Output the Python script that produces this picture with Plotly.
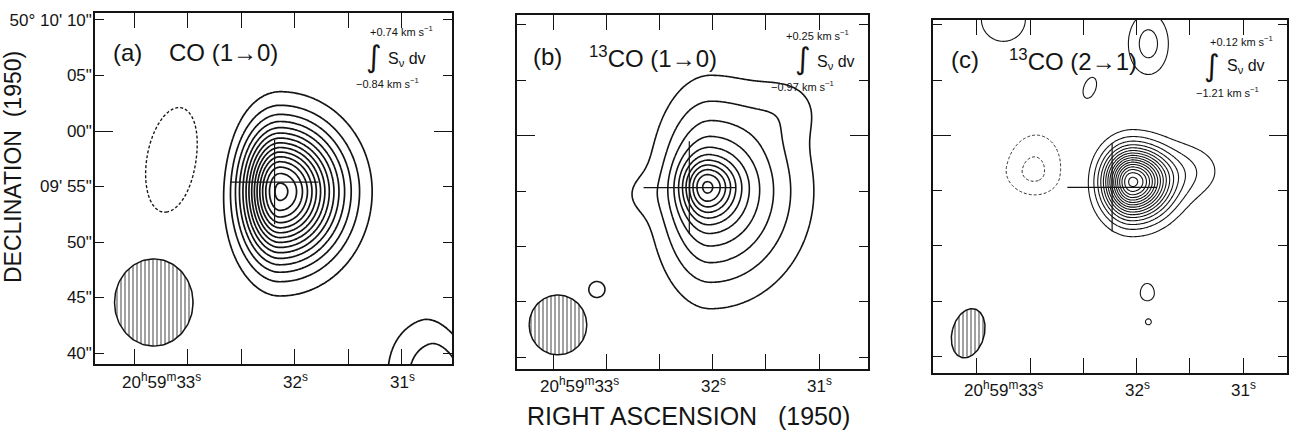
import numpy as np
import plotly.graph_objects as go

W, H = 1295, 443

# ---------------------------------------------------------------------------
# Coordinates: x = RA seconds of 20h59m, y = Dec offset (arcsec) from 50°09'55"
# ---------------------------------------------------------------------------
RA_TICKS = [33, 32, 31]
RA_MINOR = [33.5, 32.5, 31.5]
RA_TICK_TEXT = ["20<sup>h</sup>59<sup>m</sup>33<sup>s</sup>", "32<sup>s</sup>", "31<sup>s</sup>"]
DEC_TICKS = [15, 10, 5, 0, -5, -10, -15]
DEC_TICK_TEXT = ["50° 10' 10\"", "05\"", "00\"", "09' 55\"", "50\"", "45\"", "40\""]
DEC_MINUTE_TICK = [5]          # 50°10'00" gets the long tick

PANEL_TAGS = ["(a)", "(b)", "(c)"]
PANEL_LINES = ["CO (1→0)", "<sup>13</sup>CO (1→0)", "<sup>13</sup>CO (2→1)"]
VEL_HIGH = ["+0.74", "+0.25", "+0.12"]
VEL_LOW = ["−0.84", "−0.97", "−1.21"]

# Number of positive contour levels (1 unit each) per map
N_LEVELS = [15, 11, 16]

# Emission components: (ra, dec, amp, sig_E, sig_W, sig_N, sig_S, pa) ; sigmas in arcsec
CO10_SOURCES = [
    (32.14, -0.45, 15.3, 2.23, 3.55, 3.85, 4.03, 0),
    (33.15, 2.4, -1.5, 2.5, 2.5, 5.3, 5.3, -10),
    (30.62, -17.5, 3.0, 3.2, 2.0, 3.9, 3.0, 20),
]
CO13_10_SOURCES = [
    (32.06, 0.4, 5.6, 1.5, 1.8, 1.66, 1.9, 0),
    (32.02, 0.0, 5.7, 3.0, 5.0, 5.6, 5.7, 0),
    (31.28, 7.6, 0.8, 2.2, 2.2, 2.0, 2.0, 0),
    (32.70, -0.3, 0.7, 1.5, 1.5, 1.6, 1.6, 0),
    (33.09, -8.9, 1.15, 1.35, 1.35, 1.35, 1.35, 0),
]
CO13_21_SOURCES = [
    (32.04, 0.8, 16.3, 1.7, 2.2, 2.0, 2.1, 0),
    (31.50, 1.8, 1.6, 2.0, 2.2, 1.8, 1.8, 0),
    (32.97, 1.7, -2.3, 1.9, 1.9, 2.6, 1.6, -10),
    (33.25, 15.5, 1.5, 2.2, 2.2, 2.2, 2.2, 0),
    (31.89, 13.3, 2.4, 1.36, 1.36, 2.1, 2.1, 0),
    (32.44, 9.3, 1.2, 0.9, 0.9, 1.65, 1.65, -20),
    (31.90, -9.3, 1.2, 1.05, 1.05, 1.5, 1.1, 0),
    (31.89, -11.9, 1.15, 0.4, 0.4, 0.4, 0.4, 0),
]
SOURCES = [CO10_SOURCES, CO13_10_SOURCES, CO13_21_SOURCES]

# Synthesized beams: (ra, dec, semi-major ", semi-minor ", pa)
BEAMS = [
    (33.32, -10.45, 3.93, 3.53, 0),
    (33.455, -12.1, 2.7, 2.6, 0),
    (33.58, -12.9, 2.27, 1.45, -15),
]

# Reference cross: centre (ra, dec), half arm (s of RA, arcsec)
CROSS_RA = [32.19, 32.22, 32.23]
CROSS_DEC = [0.4, 0.3, 0.3]
CROSS_ARM_RA = [0.41, 0.43, 0.42]
CROSS_ARM_DEC = [3.8, 4.2, 4.0]

# ---------------------------------------------------------------------------
# Layout geometry (pixels)
# ---------------------------------------------------------------------------
PANEL_PX = [(95, 452, 13, 364), (517, 868, 15, 369), (933, 1287, 20, 373)]
X_RANGES = [(33.87, 30.53), (33.84, 30.54), (33.91, 30.59)]
Y_RANGES = [(-15.99, 15.63), (-16.08, 15.9), (-16.5, 15.45)]
LINE_W = [1.7, 1.6, 1.1]

FONT = "Liberation Sans, Arial, Helvetica, sans-serif"
INK = "#141414"

SEC_TO_ARCSEC = 15.0 * np.cos(np.deg2rad(50.165))

ra_grid = np.linspace(30.2, 34.2, 320)
dec_grid = np.linspace(-21.0, 21.0, 340)
RA, DEC = np.meshgrid(ra_grid, dec_grid)


def component(ra0, dec0, amp, se, sw, sn, ss, pa):
    x = (RA - ra0) * SEC_TO_ARCSEC
    y = DEC - dec0
    t = np.deg2rad(pa)
    v = y * np.cos(t) + x * np.sin(t)
    u = x * np.cos(t) - y * np.sin(t)
    su = np.where(u >= 0, se, sw)
    sv = np.where(v >= 0, sn, ss)
    return amp * np.exp(-0.5 * ((u / su) ** 2 + (v / sv) ** 2))


def beam_outline(ra0, dec0, a, b, pa, n=120):
    s = np.linspace(0, 2 * np.pi, n)
    t = np.deg2rad(pa)
    u = b * np.cos(s)
    v = a * np.sin(s)
    x = u * np.cos(t) + v * np.sin(t)
    y = -u * np.sin(t) + v * np.cos(t)
    return ra0 + x / SEC_TO_ARCSEC, dec0 + y


def px_x(p):
    return p / W


def px_y(p):
    return 1 - p / H


def paper_text(x, y, text, size, family=FONT, **kw):
    return dict(x=px_x(x), y=px_y(y), xref="paper", yref="paper", text=text,
                showarrow=False, xanchor=kw.pop("xanchor", "center"),
                yanchor="middle", font=dict(family=family, size=size, color=INK), **kw)


fig = go.Figure()
layout = dict(
    width=W, height=H, margin=dict(l=0, r=0, t=0, b=0, autoexpand=False),
    paper_bgcolor="white", plot_bgcolor="white", showlegend=False,
)
annotations = []
black = [[0, INK], [1, INK]]

for i in range(3):
    n = i + 1
    xa = "x" if n == 1 else f"x{n}"
    ya = "y" if n == 1 else f"y{n}"
    ya_over = f"y{n + 3}"
    x0, x1, y0, y1 = PANEL_PX[i]

    z = sum(component(*c) for c in SOURCES[i])

    fig.add_trace(go.Contour(
        x=ra_grid, y=dec_grid, z=z, xaxis=xa, yaxis=ya,
        autocontour=False,
        contours=dict(start=1, end=N_LEVELS[i], size=1, coloring="lines"),
        colorscale=black, showscale=False, line=dict(width=LINE_W[i]),
        hoverinfo="skip",
    ))
    fig.add_trace(go.Contour(
        x=ra_grid, y=dec_grid, z=z, xaxis=xa, yaxis=ya,
        autocontour=False,
        contours=dict(start=-4, end=-1, size=1, coloring="lines"),
        colorscale=black, showscale=False,
        line=dict(width=LINE_W[i] * 0.8, dash="3px,2px"),
        hoverinfo="skip",
    ))

    bx, by = beam_outline(*BEAMS[i])
    fig.add_trace(go.Scatter(
        x=bx, y=by, xaxis=xa, yaxis=ya, mode="lines", fill="toself",
        line=dict(color=INK, width=1.5), fillcolor="white",
        fillpattern=dict(shape="|", size=4, solidity=0.4, fgcolor=INK, bgcolor="white"),
        hoverinfo="skip",
    ))

    cr, cd = CROSS_RA[i], CROSS_DEC[i]
    ar, ad = CROSS_ARM_RA[i], CROSS_ARM_DEC[i]
    fig.add_trace(go.Scatter(
        x=[cr + ar, cr - ar, None, cr, cr],
        y=[cd, cd, None, cd + ad, cd - ad],
        xaxis=xa, yaxis=ya_over, mode="lines",
        line=dict(color=INK, width=1.2), hoverinfo="skip",
    ))

    layout[f"xaxis{n}"] = dict(
        domain=[px_x(x0), px_x(x1)], range=list(X_RANGES[i]), anchor=ya,
        showline=True, linecolor=INK, linewidth=1.5, mirror="allticks",
        ticks="inside", tickvals=RA_TICKS, ticklen=15, tickwidth=1.4, tickcolor=INK,
        showticklabels=False, showgrid=False, zeroline=False, automargin=False,
        minor=dict(tickvals=RA_MINOR, ticks="inside", ticklen=6, tickwidth=1.4,
                   tickcolor=INK, showgrid=False),
    )
    layout[f"yaxis{n}"] = dict(
        domain=[px_y(y1), px_y(y0)], range=list(Y_RANGES[i]), anchor=xa,
        showline=True, linecolor=INK, linewidth=1.5, mirror="ticks",
        ticks="inside", tickvals=DEC_TICKS, ticktext=DEC_TICK_TEXT,
        ticklen=9, tickwidth=1.4, tickcolor=INK,
        showticklabels=(n == 1), tickfont=dict(family=FONT, size=17, color=INK),
        ticklabelstandoff=-2, automargin=False,
        showgrid=False, zeroline=False,
    )
    layout[f"yaxis{n + 3}"] = dict(
        overlaying=ya, range=list(Y_RANGES[i]), anchor=xa, side="left",
        showline=False, mirror="ticks", ticks="inside", tickvals=DEC_MINUTE_TICK,
        ticklen=18, tickwidth=1.4, tickcolor=INK, showticklabels=False,
        showgrid=False, zeroline=False, automargin=False,
    )

    # bottom RA labels, aligned so the seconds digits sit on the tick
    label_y = [381, 385, 389][i]
    for v, t in zip(RA_TICKS, RA_TICK_TEXT):
        annotations.append(dict(
            x=v, xref=xa, y=px_y(label_y), yref="paper", text=t, showarrow=False,
            xanchor="right", yanchor="middle", xshift=15,
            font=dict(family=FONT, size=17, color=INK),
        ))

# panel titles
TAG_POS = [(127, 52), (547, 57), (965, 59)]
LINE_POS = [(167, 52), (587, 57), (1007, 60)]
for i in range(3):
    annotations.append(paper_text(*TAG_POS[i], PANEL_TAGS[i], 24))
    annotations.append(paper_text(*LINE_POS[i], PANEL_LINES[i], 24, xanchor="left"))

# velocity-integration labels
HI_POS = [(401, 31), (817, 35), (1241, 41)]
INT_POS = [(374, 56), (803, 58), (1212, 65)]
SNU_POS = [(407, 60), (836, 62), (1246, 67)]
LO_POS = [(387, 83), (802, 86), (1227, 92)]
for i in range(3):
    annotations.append(paper_text(*HI_POS[i], f"{VEL_HIGH[i]} km s<sup>−1</sup>", 11))
    annotations.append(paper_text(*INT_POS[i], "∫", 30, family="DejaVu Sans, sans-serif"))
    annotations.append(paper_text(*SNU_POS[i], "S<sub>ν</sub> dv", 16))
    annotations.append(paper_text(*LO_POS[i], f"{VEL_LOW[i]} km s<sup>−1</sup>", 11))

# axis titles
annotations.append(paper_text(13, 167, "DECLINATION\u00a0\u00a0(1950)", 23, textangle=-90))
annotations.append(paper_text(688, 416, "RIGHT ASCENSION\u00a0\u00a0\u00a0(1950)", 25))

layout["annotations"] = annotations
fig.update_layout(**layout)
fig.write_html("out.html")
